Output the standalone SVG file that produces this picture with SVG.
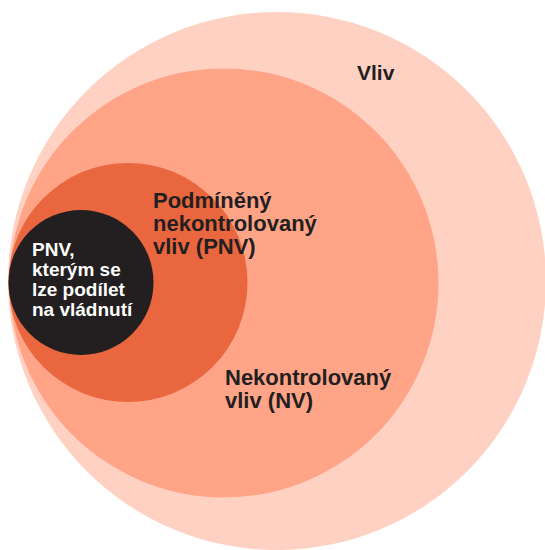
<svg xmlns="http://www.w3.org/2000/svg" width="545" height="550" viewBox="0 0 545 550">
<style>
.lbl{font-family:"Liberation Sans",Arial,Helvetica,sans-serif;font-weight:bold;fill:#231f20}
.big{font-size:22px}
.wht{font-family:"Liberation Sans",Arial,Helvetica,sans-serif;font-weight:bold;fill:#ffffff;font-size:19px}
</style>
<rect width="545" height="550" fill="#ffffff"/>
<g id="vliv">
<circle cx="277" cy="281" r="269" fill="#ffd1c3"/>
<text class="lbl" x="357" y="80" style="font-size:21px">Vliv</text>
</g>
<g id="nv">
<circle cx="224" cy="283" r="214.5" fill="#ffa487"/>
<text class="lbl big" x="225" y="385">Nekontrolovaný</text>
<text class="lbl big" x="225" y="408">vliv (NV)</text>
</g>
<g id="pnv">
<circle cx="128" cy="282.5" r="119.5" fill="#e9663f"/>
<text class="lbl big" x="153" y="208">Podmíněný</text>
<text class="lbl big" x="153" y="231">nekontrolovaný</text>
<text class="lbl big" x="153" y="254">vliv (PNV)</text>
</g>
<g id="pnv-vladnuti">
<circle cx="81" cy="282.5" r="72.5" fill="#231f20"/>
<text class="wht" x="32" y="256">PNV,</text>
<text class="wht" x="32" y="276">kterým se</text>
<text class="wht" x="32" y="296">lze podílet</text>
<text class="wht" x="32" y="316">na vládnutí</text>
</g>
<g id="connectors"></g>
</svg>
